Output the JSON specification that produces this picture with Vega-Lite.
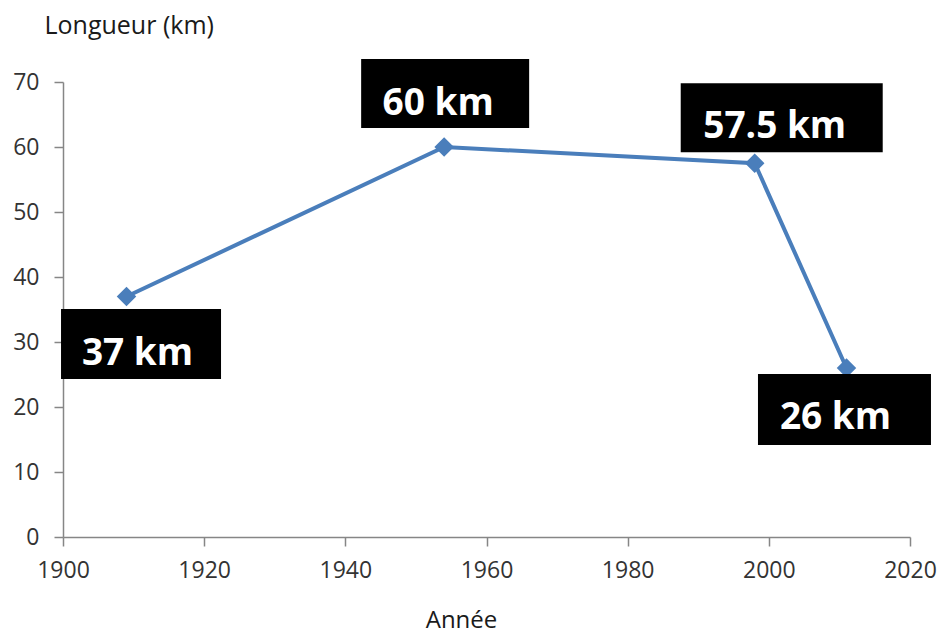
{
  "$schema": "https://vega.github.io/schema/vega-lite/v6.json",
  "width": 847,
  "height": 455,
  "autosize": "none",
  "padding": {"left": 63, "top": 82, "right": 36, "bottom": 98},
  "background": "white",
  "config": {
    "view": {"stroke": null},
    "axis": {
      "grid": false,
      "domainColor": "#868686",
      "domainWidth": 1.5,
      "tickColor": "#868686",
      "tickWidth": 1.5,
      "tickSize": 9,
      "labelFont": "Open Sans",
      "labelFontSize": 23,
      "labelColor": "#333333",
      "titleFont": "Open Sans",
      "titleFontWeight": "normal",
      "titleColor": "#1a1a1a"
    }
  },
  "data": {
    "values": [
      {"annee": 1909, "longueur": 37, "label": "37 km"},
      {"annee": 1954, "longueur": 60, "label": "60 km"},
      {"annee": 1998, "longueur": 57.5, "label": "57.5 km"},
      {"annee": 2011, "longueur": 26, "label": "26 km"}
    ]
  },
  "encoding": {
    "x": {
      "field": "annee",
      "type": "quantitative",
      "scale": {"domain": [1900, 2020], "nice": false, "zero": false},
      "axis": {
        "values": [1900, 1920, 1940, 1960, 1980, 2000, 2020],
        "format": "d",
        "labelPadding": 13,
        "title": "Année",
        "titleFontSize": 24,
        "titleX": 398,
        "titleY": 90,
        "titleBaseline": "alphabetic",
        "titleAlign": "center",
        "labelFlush": false
      }
    },
    "y": {
      "field": "longueur",
      "type": "quantitative",
      "scale": {"domain": [0, 70], "nice": false},
      "axis": {
        "values": [0, 10, 20, 30, 40, 50, 60, 70],
        "labelPadding": 15,
        "title": "Longueur (km)",
        "titleFontSize": 25,
        "titleAngle": 0,
        "titleX": -19,
        "titleY": -49,
        "titleAlign": "left",
        "titleBaseline": "alphabetic"
      }
    }
  },
  "layer": [
    {
      "mark": {"type": "line", "color": "#4A7EBB", "strokeWidth": 4,
        "point": {"shape": "diamond", "size": 380, "filled": true, "color": "#4A7EBB"}}
    },
    {
      "transform": [{"filter": "datum.annee == 1909"}],
      "mark": {"type": "rect", "color": "black", "xOffset": -65.5, "x2Offset": 94.5, "yOffset": 12.5, "y2Offset": 82.5},
      "encoding": {"x2": {"field": "annee"}, "y2": {"field": "longueur"}}
    },
    {
      "transform": [{"filter": "datum.annee == 1954"}],
      "mark": {"type": "rect", "color": "black", "xOffset": -83, "x2Offset": 85, "yOffset": -88, "y2Offset": -19},
      "encoding": {"x2": {"field": "annee"}, "y2": {"field": "longueur"}}
    },
    {
      "transform": [{"filter": "datum.annee == 1998"}],
      "mark": {"type": "rect", "color": "black", "xOffset": -74, "x2Offset": 128, "yOffset": -80, "y2Offset": -11},
      "encoding": {"x2": {"field": "annee"}, "y2": {"field": "longueur"}}
    },
    {
      "transform": [{"filter": "datum.annee == 2011"}],
      "mark": {"type": "rect", "color": "black", "xOffset": -88.5, "x2Offset": 84.5, "yOffset": 6, "y2Offset": 77},
      "encoding": {"x2": {"field": "annee"}, "y2": {"field": "longueur"}}
    },
    {
      "transform": [{"filter": "datum.annee == 1909"}],
      "mark": {"type": "text", "color": "white", "font": "Open Sans", "fontWeight": "bold", "fontSize": 37, "align": "center", "baseline": "alphabetic", "dx": 11, "dy": 68.5},
      "encoding": {"text": {"field": "label"}}
    },
    {
      "transform": [{"filter": "datum.annee == 1954"}],
      "mark": {"type": "text", "color": "white", "font": "Open Sans", "fontWeight": "bold", "fontSize": 37, "align": "center", "baseline": "alphabetic", "dx": -6, "dy": -32},
      "encoding": {"text": {"field": "label"}}
    },
    {
      "transform": [{"filter": "datum.annee == 1998"}],
      "mark": {"type": "text", "color": "white", "font": "Open Sans", "fontWeight": "bold", "fontSize": 37, "align": "center", "baseline": "alphabetic", "dx": 20, "dy": -25},
      "encoding": {"text": {"field": "label"}}
    },
    {
      "transform": [{"filter": "datum.annee == 2011"}],
      "mark": {"type": "text", "color": "white", "font": "Open Sans", "fontWeight": "bold", "fontSize": 37, "align": "center", "baseline": "alphabetic", "dx": -11, "dy": 61},
      "encoding": {"text": {"field": "label"}}
    }
  ]
}
